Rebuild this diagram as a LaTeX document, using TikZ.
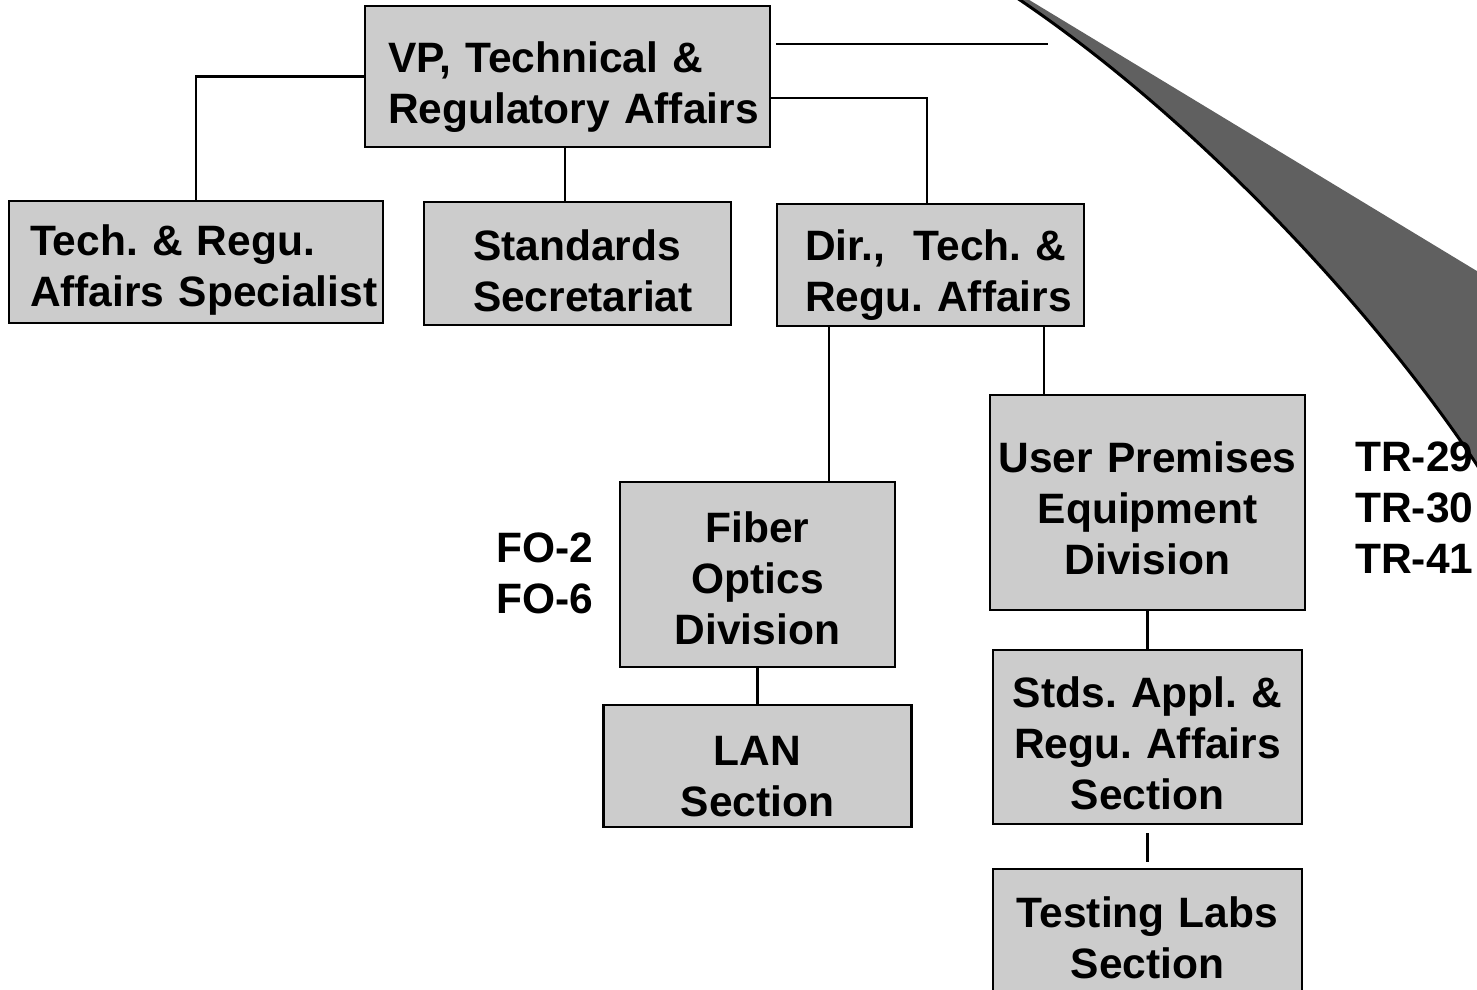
\documentclass[tikz,border=0pt]{standalone}
\usepackage{fontspec}
\setmainfont{Liberation Sans}
\frenchspacing
\definecolor{boxgray}{RGB}{204,204,204}
\definecolor{wedgegray}{RGB}{96,96,96}
\tikzset{
  orgbox/.style={draw=black, line width=2.6pt, fill=boxgray, inner sep=0pt,
    font=\bfseries\fontsize{42.5}{51}\selectfont\frenchspacing, text height=30pt},
  conn/.style={line width=2.6pt},
  sidelabel/.style={font=\bfseries\fontsize{42.5}{51}\selectfont, align=left, inner sep=0pt},
}
\begin{document}
\begin{tikzpicture}[x=1pt,y=-1pt]
\clip (0,0) rectangle (1477,989);
% curved wedge
\fill[wedgegray] (1014,-4) -- (1020,0) .. controls (1200,122) and (1375,312) .. (1475,462) -- (1490,485)
  -- (1495,485) -- (1495,282) -- (1021,-5) -- cycle;
\draw[line width=3pt] (1014,-4) -- (1020,0) .. controls (1200,122) and (1375,312) .. (1475,462) -- (1490,485);

% boxes
\node[orgbox, minimum width=405pt, minimum height=141pt, text width=405pt, align=left, text depth=39pt] (vp) at (567.5,76.5)
  {\hspace*{23pt}VP, Technical \&\\\hspace*{23pt}Regulatory Affairs};
\node[orgbox, minimum width=374pt, minimum height=122pt, text width=374pt, align=left, text depth=44pt] (spec) at (196,262)
  {\hspace*{21pt}Tech. \& Regu.\\\hspace*{21pt}Affairs Specialist};
\node[orgbox, minimum width=307pt, minimum height=123pt, text width=307pt, align=left, text depth=37pt] (std) at (577.5,263.5)
  {\hspace*{49pt}Standards\\\hspace*{49pt}Secretariat};
\node[orgbox, minimum width=307pt, minimum height=122pt, text width=307pt, align=left, text depth=40pt] (dir) at (930.5,265)
  {\hspace*{28pt}Dir.,\ \ Tech. \&\\\hspace*{28pt}Regu. Affairs};
\node[orgbox, minimum width=315pt, minimum height=215pt, text width=315pt, align=center, text depth=91pt] (user) at (1147.5,502.5)
  {User Premises\\Equipment\\Division};
\node[orgbox, minimum width=275pt, minimum height=185pt, text width=275pt, align=center, text depth=95pt] (fiber) at (757.5,574.5)
  {Fiber\\Optics\\Division};
\node[orgbox, minimum width=308pt, minimum height=122pt, text width=308pt, align=center, text depth=32pt] (lan) at (757.5,766)
  {LAN\\Section};
\node[orgbox, minimum width=309pt, minimum height=174pt, text width=309pt, align=center, text depth=90pt] (stds) at (1147.5,737)
  {Stds. Appl. \&\\Regu. Affairs\\Section};
\node[orgbox, minimum width=309pt, minimum height=141pt, text width=309pt, align=center, text depth=55pt] (test) at (1147.5,939.5)
  {Testing Labs\\Section\hspace*{0pt}};

% side labels (anchor base = last line baseline)
\node[sidelabel, anchor=base west] (fo) at (496,613) {FO-2\\FO-6};
\node[sidelabel, anchor=base west] (tr) at (1355,573) {TR-29\\TR-30\\TR-41};

% connectors
\draw[conn] (vp.west) -| (spec.north);
\draw[conn] ([xshift=-2.5pt]vp.south) -- ([xshift=-2.5pt]vp.south |- std.north);
\draw[conn] ([yshift=-21.5pt]vp.east) -| ([xshift=-3.5pt]dir.north);
\draw[conn] ([xshift=5pt,yshift=32.5pt]vp.east) -- ++(272,0) coordinate (hend);
\draw[conn] ([xshift=-101.5pt]dir.south) -- ([xshift=-101.5pt]dir.south |- fiber.north);
\draw[conn] ([xshift=113.5pt]dir.south) -- ([xshift=113.5pt]dir.south |- user.north);
\draw[conn] (fiber.south) -- (lan.north);
\draw[conn] (user.south) -- (stds.north);
\draw[conn] ([yshift=-8pt]stds.south) -- ([yshift=6pt]test.north);
\end{tikzpicture}
\end{document}
